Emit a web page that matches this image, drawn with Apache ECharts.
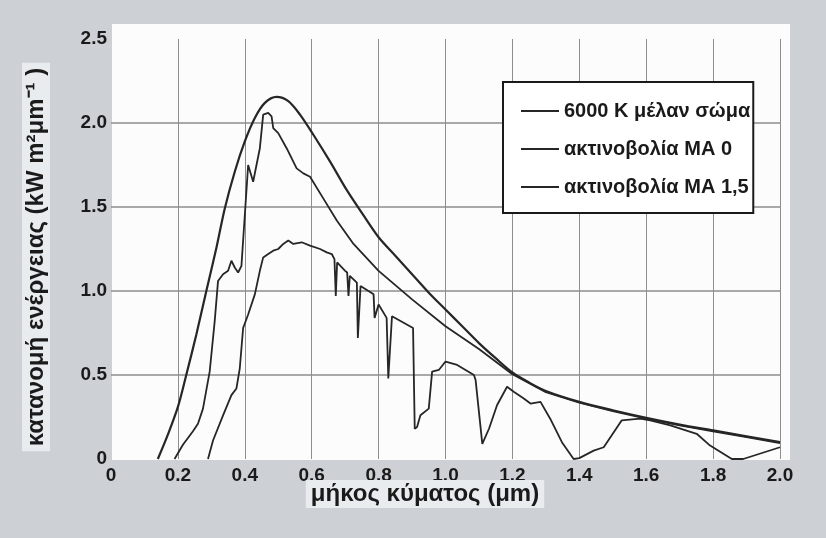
<!DOCTYPE html>
<html>
<head>
<meta charset="utf-8">
<script src="https://cdn.jsdelivr.net/npm/echarts@6/dist/echarts.min.js"></script>
<style>
html,body{margin:0;padding:0;background:#cdd1d5;}
#chart{width:826px;height:538px;}
</style>
</head>
<body>
<div id="chart"></div>
<script>
// ---- data (wavelength in µm, spectral irradiance in kW m^-2 µm^-1) ----
var seriesNames = ['6000 K μέλαν σώμα', 'ακτινοβολία ΜΑ 0', 'ακτινοβολία ΜΑ 1,5'];

var bbX = [0.14,0.17,0.2,0.225,0.255,0.285,0.315,0.34,0.37,0.4,0.43,0.46,0.495,0.53,0.565,0.605,0.655,0.705,0.755,0.8,0.85,0.9,0.95,1.0,1.05,1.1,1.15,1.2,1.25,1.3,1.4,1.5,1.6,1.7,1.8,1.9,2.0];
var bbY = [0,0.145,0.31,0.5,0.74,1.0,1.256,1.49,1.71,1.89,2.03,2.12,2.155,2.13,2.05,1.93,1.77,1.6,1.45,1.32,1.21,1.1,0.99,0.89,0.79,0.69,0.6,0.515,0.455,0.405,0.34,0.29,0.245,0.205,0.17,0.135,0.1];

var am0X = [0.19,0.215,0.245,0.26,0.275,0.295,0.31,0.32,0.335,0.35,0.36,0.37,0.38,0.39,0.41,0.425,0.445,0.455,0.47,0.48,0.485,0.5,0.525,0.555,0.575,0.595,0.635,0.675,0.725,0.8,0.9,1.0,1.1,1.2,1.3,1.4,1.5,1.6,1.7,1.8,1.9,2.0];
var am0Y = [0,0.085,0.165,0.21,0.3,0.52,0.82,1.06,1.1,1.12,1.18,1.14,1.11,1.15,1.75,1.65,1.85,2.05,2.06,2.04,1.97,1.94,1.85,1.73,1.7,1.68,1.55,1.42,1.28,1.12,0.95,0.79,0.655,0.505,0.398,0.335,0.285,0.24,0.2,0.165,0.13,0.095];

var am15X = [0.29,0.305,0.335,0.36,0.375,0.385,0.395,0.41,0.43,0.445,0.455,0.47,0.485,0.5,0.515,0.53,0.545,0.57,0.595,0.625,0.645,0.66,0.668,0.672,0.676,0.7,0.706,0.71,0.714,0.735,0.738,0.742,0.746,0.785,0.788,0.792,0.8,0.824,0.829,0.834,0.84,0.903,0.908,0.915,0.925,0.95,0.96,0.98,1.0,1.035,1.085,1.09,1.11,1.13,1.154,1.184,1.204,1.234,1.254,1.284,1.313,1.348,1.383,1.4,1.443,1.473,1.527,1.582,1.612,1.672,1.751,1.791,1.856,1.89,2.0];
var am15Y = [0,0.11,0.26,0.38,0.42,0.54,0.78,0.86,0.98,1.12,1.2,1.22,1.24,1.25,1.28,1.3,1.28,1.29,1.27,1.25,1.23,1.22,1.19,0.97,1.17,1.12,1.11,0.97,1.09,1.05,0.72,0.72,1.03,0.98,0.84,0.84,0.92,0.84,0.48,0.48,0.85,0.78,0.18,0.19,0.26,0.3,0.52,0.53,0.58,0.56,0.5,0.47,0.09,0.18,0.32,0.43,0.4,0.36,0.33,0.34,0.24,0.1,0,0.005,0.05,0.07,0.23,0.24,0.23,0.2,0.15,0.08,0,0,0.07];

var xTicks = ['0','0.2','0.4','0.6','0.8','1.0','1.2','1.4','1.6','1.8','2.0'];
var yTicks = ['0','0.5','1.0','1.5','2.0','2.5'];
var xTitle = 'μήκος κύματος (μm)';
var yTitle = 'κατανομή ενέργειας (kW m²μm⁻¹ )';

function pairs(xs, ys){ var r=[]; for(var i=0;i<xs.length;i++) r.push([xs[i], ys[i]]); return r; }

var FONT = '"Liberation Sans", Arial, sans-serif';
var INK = '#1a1a1a';
var LINE = '#262626';

var chart = echarts.init(document.getElementById('chart'), null, {renderer:'canvas'});
chart.setOption({
  backgroundColor: '#cdd1d5',
  animation: false,
  graphic: [
    {type:'rect', z:-10, shape:{x:112, y:24, width:678, height:436}, style:{fill:'#fcfcfc'}},
    {type:'text', x: 425, y: 494, z:10,
     style:{text: xTitle, font: 'bold 24px ' + FONT, fill: INK, align:'center', verticalAlign:'middle', backgroundColor:'#e9ecee', padding:[2,5,2,5]}},
    {type:'text', x: 36, y: 257, rotation: Math.PI/2, z:10,
     style:{text: yTitle, font: 'bold 24px ' + FONT, fill: INK, align:'center', verticalAlign:'middle', backgroundColor:'#e9ecee', padding:[2,5,2,5]}}
  ],
  grid: {left: 111, right: 46, top: 39, bottom: 79, containLabel: false},
  legend: {
    orient: 'vertical', left: 503, top: 82,
    data: seriesNames,
    backgroundColor: '#ffffff', borderColor: '#1a1a1a', borderWidth: 2,
    padding: [19, 3, 16, 18], itemGap: 18, itemWidth: 38, itemHeight: 2,
    icon: 'rect',
    textStyle: {fontFamily: FONT, fontWeight: 'bold', fontSize: 20, color: INK}
  },
  xAxis: {
    type: 'value', min: 0, max: 2, interval: 0.2,
    axisLine: {show: false}, axisTick: {show: false},
    axisLabel: {margin: 7, fontFamily: FONT, fontWeight: 'bold', fontSize: 19, color: INK,
      formatter: function(v){ var i=Math.round(v/0.2); return xTicks[i]; }},
    splitLine: {show: true, showMinLine: false, lineStyle: {color: '#8e8e8e', width: 1}}
  },
  yAxis: {
    type: 'value', min: 0, max: 2.5, interval: 0.5,
    axisLine: {show: false}, axisTick: {show: false},
    axisLabel: {margin: 4, fontFamily: FONT, fontWeight: 'bold', fontSize: 19, color: INK,
      formatter: function(v){ var i=Math.round(v/0.5); return yTicks[i]; }},
    splitLine: {show: true, showMinLine: false, showMaxLine: false, lineStyle: {color: '#8e8e8e', width: 1.5}}
  },
  series: [
    {name: seriesNames[0], type: 'line', showSymbol: false, symbol: 'none', smooth: 0.3,
     data: pairs(bbX, bbY), lineStyle: {color: LINE, width: 2.2}, itemStyle: {color: LINE}},
    {name: seriesNames[1], type: 'line', showSymbol: false, symbol: 'none',
     data: pairs(am0X, am0Y), lineStyle: {color: LINE, width: 1.8}, itemStyle: {color: LINE}},
    {name: seriesNames[2], type: 'line', showSymbol: false, symbol: 'none',
     data: pairs(am15X, am15Y), lineStyle: {color: LINE, width: 1.8}, itemStyle: {color: LINE}}
  ]
});
</script>
</body>
</html>
